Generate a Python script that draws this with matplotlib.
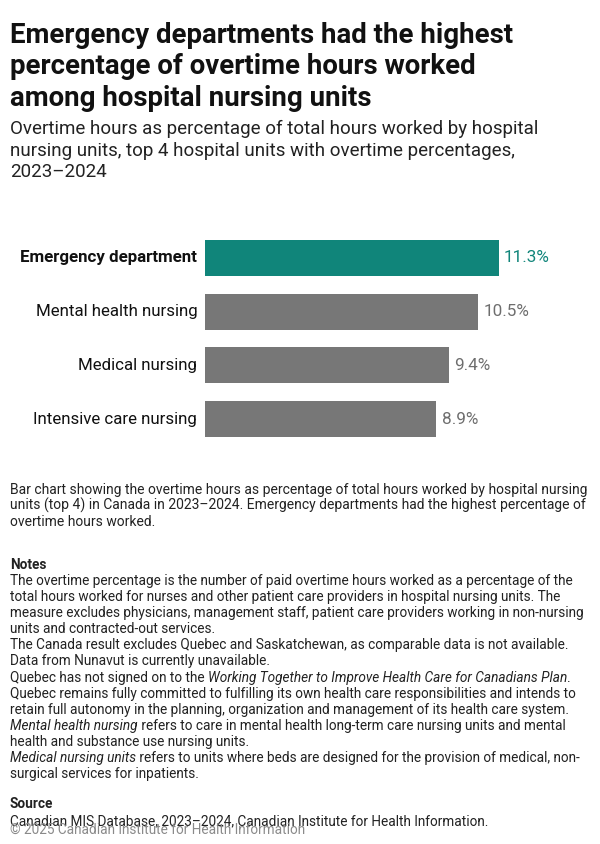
import matplotlib
matplotlib.use("Agg")
import matplotlib.pyplot as plt
from matplotlib import font_manager as fm

names = {f.name for f in fm.fontManager.ttflist}
FONT = "Liberation Sans Narrow" if "Liberation Sans Narrow" in names else "Roboto"
plt.rcParams['font.family'] = [FONT, 'DejaVu Sans']

categories = ["Emergency department", "Mental health nursing", "Medical nursing", "Intensive care nursing"]
values = [11.3, 10.5, 9.4, 8.9]
value_labels = ["11.3%", "10.5%", "9.4%", "8.9%"]

TEAL = "#10857A"
GRAY_BAR = "#777777"
GRAY_TXT = "#6E6E6E"
W, H = 600, 844
fig = plt.figure(figsize=(W / 100, H / 100), dpi=100)

def fx(x): return x / W
def fy(y): return 1 - y / H

fig.canvas.draw()
renderer = fig.canvas.get_renderer()

def fit_size(text, target_px, base=10, weight='normal'):
    t = fig.text(0, 0, text, fontsize=base, fontweight=weight)
    w = t.get_window_extent(renderer).width
    t.remove()
    return base * target_px / w

# Title
title_lines = ["Emergency departments had the highest",
               "percentage of overtime hours worked",
               "among hospital nursing units"]
tsize = fit_size(title_lines[0], 503, 19, 'bold')
for i, t in enumerate(title_lines):
    fig.text(fx(10), fy(43 + 31.5 * i), t, fontsize=tsize, fontweight='bold', va='baseline', ha='left', color='#111111')
sub_lines = ["Overtime hours as percentage of total hours worked by hospital",
             "nursing units, top 4 hospital units with overtime percentages,",
             "2023\u20132024"]
ssize = fit_size(sub_lines[0], 530, 13.5)
for i, t in enumerate(sub_lines):
    fig.text(fx(10), fy(134 + 21.5 * i), t, fontsize=ssize, va='baseline', ha='left', color='#222222')

# Axes
top, bottom = 231, 446
left, right = 205, 570
ax = fig.add_axes([fx(left), fy(bottom), (right - left) / W, (bottom - top) / H])
ypos = list(range(len(categories)))
colors = [TEAL] + [GRAY_BAR] * (len(categories) - 1)
ax.barh(ypos, values, height=0.67, color=colors)
ax.set_xlim(0, (right - left) / 26.0)
ax.set_ylim(3.5, -0.5)
ax.axis('off')
lsize = fit_size(categories[0], 177, 12.5, 'bold')
for i, (c, v, lab) in enumerate(zip(categories, values, value_labels)):
    ax.text(-0.3, i, c, ha='right', va='center', fontsize=lsize,
            fontweight='bold' if i == 0 else 'normal', color='#111111')
    ax.text(v + 0.2, i, lab, ha='left', va='center', fontsize=12.3,
            color=TEAL if i == 0 else GRAY_TXT)

def rich(y, parts, size=10.0, color='#222222'):
    x = 10
    for txt, style in parts:
        t = fig.text(fx(x), fy(y), txt, fontsize=size, va='baseline', ha='left', color=color,
                     fontstyle='italic' if style == 'i' else 'normal',
                     fontweight='bold' if style == 'b' else 'normal')
        bb = t.get_window_extent(renderer)
        x += bb.width

desc = ["Bar chart showing the overtime hours as percentage of total hours worked by hospital nursing",
        "units (top 4) in Canada in 2023\u20132024. Emergency departments had the highest percentage of",
        "overtime hours worked."]
nsize = fit_size(desc[0], 578, 10)
for i, t in enumerate(desc):
    rich(494 + 16 * i, [(t, 'n')], size=nsize)

notes = [
    [("The overtime percentage is the number of paid overtime hours worked as a percentage of the", 'n')],
    [("total hours worked for nurses and other patient care providers in hospital nursing units. The", 'n')],
    [("measure excludes physicians, management staff, patient care providers working in non-nursing", 'n')],
    [("units and contracted-out services.", 'n')],
    [("The Canada result excludes Quebec and Saskatchewan, as comparable data is not available.", 'n')],
    [("Data from Nunavut is currently unavailable.", 'n')],
    [("Quebec has not signed on to the ", 'n'), ("Working Together to Improve Health Care for Canadians Plan", 'i'), (".", 'n')],
    [("Quebec remains fully committed to fulfilling its own health care responsibilities and intends to", 'n')],
    [("retain full autonomy in the planning, organization and management of its health care system.", 'n')],
    [("Mental health nursing", 'i'), (" refers to care in mental health long-term care nursing units and mental", 'n')],
    [("health and substance use nursing units.", 'n')],
    [("Medical nursing units", 'i'), (" refers to units where beds are designed for the provision of medical, non-", 'n')],
    [("surgical services for inpatients.", 'n')],
]
nsize = min(nsize, fit_size(notes[2][0][0], 578, 10))
rich(569, [("Notes", 'b')], size=nsize)
for i, parts in enumerate(notes):
    rich(585 + 16.1 * i, parts, size=nsize)

rich(808, [("Source", 'b')], size=nsize)
rich(825, [("Canadian MIS Database, 2023\u20132024, Canadian Institute for Health Information.", 'n')], size=nsize)
rich(834, [("\u00a9 2025 Canadian Institute for Health Information", 'n')], size=nsize, color='#8A8A8A')

fig.savefig("out.png", dpi=100, facecolor='white')
